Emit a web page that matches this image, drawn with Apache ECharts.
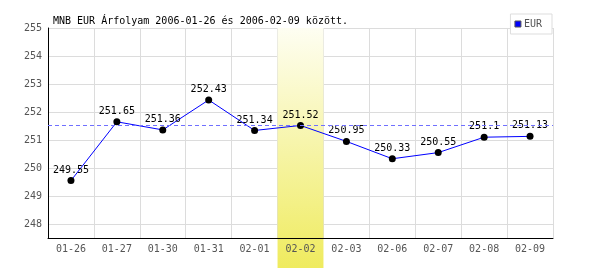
<!DOCTYPE html>
<html>
<head>
<meta charset="utf-8">
<script src="https://cdn.jsdelivr.net/npm/echarts@6/dist/echarts.min.js"></script>
<style>html,body{margin:0;padding:0;background:#fff;}#c{width:600px;height:270px;}</style>
</head>
<body>
<div id="c"></div>
<script>
const titleText = 'MNB EUR Árfolyam 2006-01-26 és 2006-02-09 között.';
const seriesName = 'EUR';
const categories = ['01-26','01-27','01-30','01-31','02-01','02-02','02-03','02-06','02-07','02-08','02-09'];
const values = [249.55, 251.65, 251.36, 252.43, 251.34, 251.52, 250.95, 250.33, 250.55, 251.1, 251.13];
const highlightCategory = '02-02';
const referenceValue = 251.52;
const yMin = 247.5, yMax = 255, yInterval = 0.5;

const FONT = 'DejaVu Sans Mono';
const REF_COLOR = '#7070ff';
const bandData = categories.map(c => c === highlightCategory ? 1 : null);

const chart = echarts.init(document.getElementById('c'), null, {renderer: 'canvas'});
chart.setOption({
  animation: false,
  backgroundColor: '#fff',
  title: {
    text: titleText, left: 48, top: 11,
    textStyle: {fontFamily: FONT, fontSize: 10, fontWeight: 'normal', color: '#000'}
  },
  legend: {
    right: 48, top: 14, orient: 'vertical',
    backgroundColor: '#fff', borderColor: '#ddd', borderWidth: 1, borderRadius: 0,
    padding: [5, 10, 5, 4], itemGap: 0,
    itemWidth: 6, itemHeight: 6, icon: 'rect',
    textStyle: {fontFamily: FONT, fontSize: 10, color: '#555', padding: [0, 0, 0, -2]},
    data: [{name: seriesName, itemStyle: {color: '#0000ff', borderColor: '#555', borderWidth: 1}}]
  },
  grid: [
    {left: 48, right: 47, top: 28, bottom: 32, containLabel: false},
    {left: 48, right: 47, top: 28, bottom: 2, containLabel: false}
  ],
  xAxis: [
    {
      type: 'category', data: categories, gridIndex: 0, boundaryGap: true, z: 3,
      axisLine: {show: true, lineStyle: {color: '#000', width: 1}},
      axisTick: {show: false},
      axisLabel: {fontFamily: FONT, fontSize: 10, color: '#555', margin: 6, interval: 0},
      splitLine: {show: false}
    },
    {
      type: 'category', data: categories, gridIndex: 0, boundaryGap: true, z: 0,
      axisLine: {show: false}, axisTick: {show: false}, axisLabel: {show: false},
      splitLine: {show: true, interval: 0, lineStyle: {color: '#dcdcdc', width: 1}}
    },
    {
      type: 'category', data: categories, gridIndex: 1, boundaryGap: true, show: false
    }
  ],
  yAxis: [
    {
      type: 'value', gridIndex: 0, min: yMin, max: yMax, interval: yInterval,
      axisLine: {show: true, lineStyle: {color: '#000', width: 1}},
      axisTick: {show: false},
      axisLabel: {fontFamily: FONT, fontSize: 10, color: '#555', margin: 6,
        formatter: v => (Math.abs(v - Math.round(v)) < 1e-6 ? String(Math.round(v)) : '')},
      splitLine: {show: true, lineStyle: {color: ['rgba(0,0,0,0)', '#dcdcdc'], width: 1}}
    },
    {type: 'value', gridIndex: 1, min: 0, max: 1, show: false}
  ],
  series: [
    {
      type: 'bar', xAxisIndex: 2, yAxisIndex: 1, data: bandData, z: 1,
      barWidth: '100%', barCategoryGap: '0%', silent: true, legendHoverLink: false,
      itemStyle: {
        color: new echarts.graphic.LinearGradient(0, 0, 0, 1, [
          {offset: 0, color: '#fefef2'},
          {offset: 1, color: '#efeb5e'}
        ])
      }
    },
    {
      name: 'ref', type: 'line', data: [], z: 3,
      xAxisIndex: 0, yAxisIndex: 0, silent: true,
      itemStyle: {color: REF_COLOR}, lineStyle: {color: REF_COLOR},
      markLine: {
        silent: true, symbol: ['none', 'none'], label: {show: false},
        emphasis: {disabled: true},
        lineStyle: {color: REF_COLOR, type: [4, 3], width: 1, opacity: 1},
        data: [{yAxis: referenceValue}]
      }
    },
    {
      name: seriesName, type: 'line', data: values, z: 4,
      xAxisIndex: 0, yAxisIndex: 0,
      lineStyle: {color: '#0000ff', width: 1},
      itemStyle: {color: '#000'},
      symbol: 'circle', symbolSize: 7,
      emphasis: {disabled: true},
      label: {
        show: true, position: 'top', distance: 2,
        fontFamily: FONT, fontSize: 10, color: '#000'
      }
    }
  ]
});
</script>
</body>
</html>
